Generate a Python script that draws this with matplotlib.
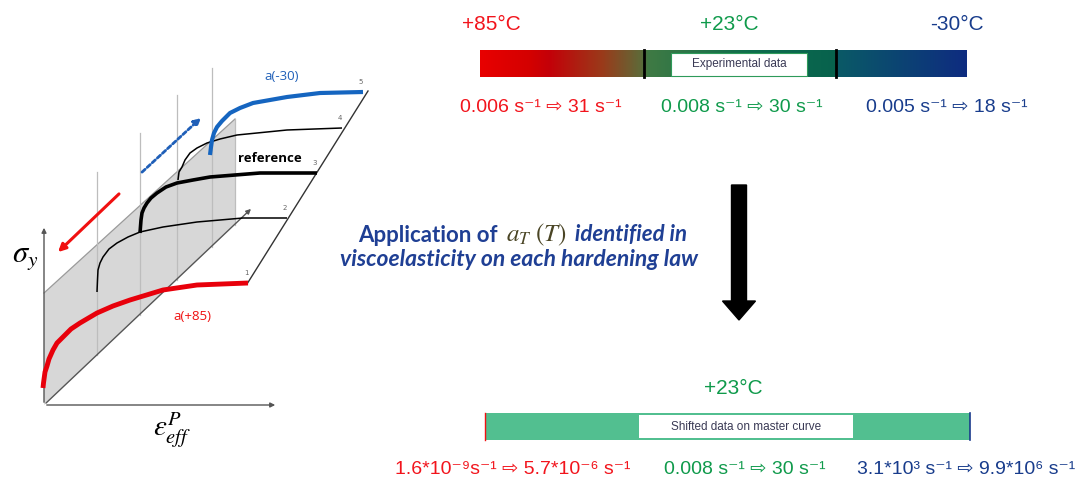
import matplotlib

matplotlib.use("Agg")
import matplotlib.pyplot as plt
import numpy as np
from matplotlib.colors import LinearSegmentedColormap
from matplotlib.patches import Polygon, Rectangle, FancyArrow

plt.rcParams["mathtext.fontset"] = "stix"

# --- data ------------------------------------------------------------------
temps = ["+85°C", "+23°C", "-30°C"]
rates_exp = ["0.006 s⁻¹ ⇨ 31 s⁻¹", "0.008 s⁻¹ ⇨ 30 s⁻¹", "0.005 s⁻¹ ⇨ 18 s⁻¹"]
rates_shift = ["1.6*10⁻⁹s⁻¹ ⇨ 5.7*10⁻⁶ s⁻¹", "0.008 s⁻¹ ⇨ 30 s⁻¹", "3.1*10³ s⁻¹ ⇨ 9.9*10⁶ s⁻¹"]
temp_colors = ["#F2141C", "#0F9A4B", "#183C8C"]

# hardening laws 1..5 (schematic, picture pixels)
curve_ids = ["1", "2", "3", "4", "5"]
curve_x = [
    [43, 43.5, 45, 47, 49, 53, 57, 63, 71, 80, 97, 113, 130, 163, 197, 248],
    [97, 97.5, 98, 100, 103, 109, 117, 128, 140, 163, 197, 243, 287],
    [140, 141, 142, 144, 147, 151, 157, 166, 177, 193, 210, 260, 317],
    [178, 179, 182, 185, 190, 197, 207, 220, 237, 287, 342],
    [210, 211, 212, 214, 217, 222, 230, 240, 253, 270, 287, 320, 363],
]
curve_y = [
    [388, 383, 372, 366, 359, 350, 343, 337, 329, 323, 313, 306, 300, 290, 285, 283],
    [292, 280, 270, 263, 257, 249, 243, 237, 232, 227, 222, 218, 218],
    [233, 220, 213, 208, 203, 198, 193, 187, 183, 180, 177, 173, 173],
    [180, 172, 167, 160, 153, 148, 143, 139, 135, 130, 128],
    [155, 147, 140, 133, 127, 121, 113, 108, 103, 100, 97, 93, 92],
]
curve_colors = ["#E8000B", "black", "black", "black", "#1565C0"]
curve_widths = [3.5, 1.1, 2.6, 1.1, 3.0]

fig = plt.figure(figsize=(10.84, 4.87), dpi=100)
ax = fig.add_axes([0, 0, 1, 1])
ax.set_xlim(0, 1084)
ax.set_ylim(487, 0)
ax.axis("off")

# --- left schematic ----------------------------------------------------------
ax.add_patch(Polygon([(44, 293), (235, 119), (235, 224), (44, 405)], closed=True,
                     facecolor="#D7D7D7", edgecolor="none", zorder=1))
ax.plot([44, 235], [293, 119], color="#9A9A9A", lw=0.9, zorder=2)

for xv, top in zip([97, 140, 177, 212, 235], [172, 133, 95, 68, 119]):
    bottom = 405 - 0.94 * (xv - 44)
    ax.plot([xv, xv], [bottom, top], color="#BDBDBD", lw=0.9, zorder=2)

arrow_kw = dict(arrowstyle="-|>", color="#555555", lw=1.0, mutation_scale=7)
ax.annotate("", xy=(44, 225), xytext=(44, 405), arrowprops=arrow_kw, zorder=3)
ax.annotate("", xy=(278, 405), xytext=(44, 405), arrowprops=arrow_kw, zorder=3)
ax.annotate("", xy=(253, 207), xytext=(44, 405), arrowprops=arrow_kw, zorder=3)
ax.plot([247, 368], [284, 91], color="#333333", lw=1.0, zorder=3)

for cid, xs, ys, c, lw in zip(curve_ids, curve_x, curve_y, curve_colors, curve_widths):
    ax.plot(xs, ys, color=c, lw=lw, solid_capstyle="butt", solid_joinstyle="round", zorder=4)
    ax.text(xs[-1] - 2, ys[-1] - 10, cid, fontsize=5, color="#666666", ha="center", va="center", zorder=5)

ax.annotate("", xy=(203, 116), xytext=(140, 174),
            arrowprops=dict(arrowstyle="-|>", color="#1F5FB8", lw=2.0, ls=(0, (1.5, 1)), mutation_scale=10))
ax.annotate("", xy=(56, 254), xytext=(121, 192),
            arrowprops=dict(arrowstyle="-|>", color="#F01010", lw=2.2, mutation_scale=11))

ax.text(282, 77, "a(-30)", color="#1F5FB8", fontsize=9.5, family="Open Sans", ha="center", va="center")
ax.text(270, 158, "reference", color="black", fontsize=9.5, family="Open Sans", weight="bold",
        ha="center", va="center")
ax.text(192, 317, "a(+85)", color="#F01010", fontsize=9.5, family="Open Sans", ha="center", va="center")
ax.text(25, 257, r"$\sigma_y$", fontsize=22, ha="center", va="center")
ax.text(172, 430, r"$\varepsilon_{eff}^{P}$", fontsize=21, ha="center", va="center")

# --- top: experimental data --------------------------------------------------
narrow = ["Liberation Sans", "DejaVu Sans"]
temp_x_top = [491, 729, 957]
for t, c, xt in zip(temps, temp_colors, temp_x_top):
    ax.text(xt, 24, t, color=c, fontsize=15, family=narrow, ha="center", va="center")

grad = LinearSegmentedColormap.from_list("exp", [
    (0.00, "#E80000"), (0.10, "#D40000"), (0.14, "#C40008"), (0.25, "#9A3A1A"),
    (0.33, "#5E6A38"), (0.345, "#3F7A44"), (0.55, "#0E6E4C"), (0.73, "#08624E"),
    (0.735, "#0A5A66"), (1.00, "#0E2C80")])
ax.imshow(np.linspace(0, 1, 256)[None, :], cmap=grad, aspect="auto",
          extent=[480, 967, 77, 50], zorder=2)
for xs in [644, 836]:
    ax.plot([xs, xs], [50, 77], color="black", lw=2, zorder=3)
ax.add_patch(Rectangle((671, 53), 136, 23, facecolor="white", edgecolor="#2E9A5A", lw=0.8, zorder=4))
ax.text(739, 64.5, "Experimental data", fontsize=8.5, color="#3A3A55", family="Liberation Sans",
        ha="center", va="center", zorder=5)

rate_x_top = [541, 742, 947]
for r, c, xr in zip(rates_exp, temp_colors, rate_x_top):
    ax.text(xr, 108, r, color=c, fontsize=14, family=narrow, ha="center", va="center")

# --- middle text + arrow -----------------------------------------------------
navy = "#1F3F94"
fig.canvas.draw()
renderer = fig.canvas.get_renderer()
pieces = [("Application of ", dict(family="Lato", weight="bold", style="normal", color=navy, fontsize=16)),
          (r"$a_T\ (T)$", dict(color="#4A4525", fontsize=18)),
          (" identified in", dict(family="Lato", weight="bold", style="italic", color=navy, fontsize=16))]
xcur = 358
for s, kw in pieces:
    t = ax.text(xcur, 235, s, ha="left", va="center", **kw)
    bb = t.get_window_extent(renderer)
    xcur = bb.x1 + 3
ax.text(519, 259, "viscoelasticity on each hardening law", family="Lato", weight="bold",
        style="italic", color=navy, fontsize=16.5, ha="center", va="center")

ax.add_patch(FancyArrow(739, 185, 0, 135, width=15, head_width=33, head_length=19,
                        length_includes_head=True, color="black", zorder=3))

# --- bottom: shifted data ----------------------------------------------------
ax.text(733, 388, temps[1], color=temp_colors[1], fontsize=15, family=narrow, ha="center", va="center")
ax.add_patch(Rectangle((485, 413), 485, 27, facecolor="#52BF90", edgecolor="none", zorder=2))
ax.plot([485, 485], [413, 440], color="#F01010", lw=1, zorder=3)
ax.plot([970, 970], [413, 440], color="#1A3A8C", lw=1.2, zorder=3)
ax.add_patch(Rectangle((639, 415), 214, 23, facecolor="white", edgecolor="none", zorder=4))
ax.text(746, 427, "Shifted data on master curve", fontsize=8.5, color="#3A3A55", family="Liberation Sans",
        ha="center", va="center", zorder=5)

rate_x_bot = [513, 745, 966]
for r, c, xr in zip(rates_shift, temp_colors, rate_x_bot):
    ax.text(xr, 469, r, color=c, fontsize=14, family=narrow, ha="center", va="center")

fig.savefig("out.png", dpi=100)
